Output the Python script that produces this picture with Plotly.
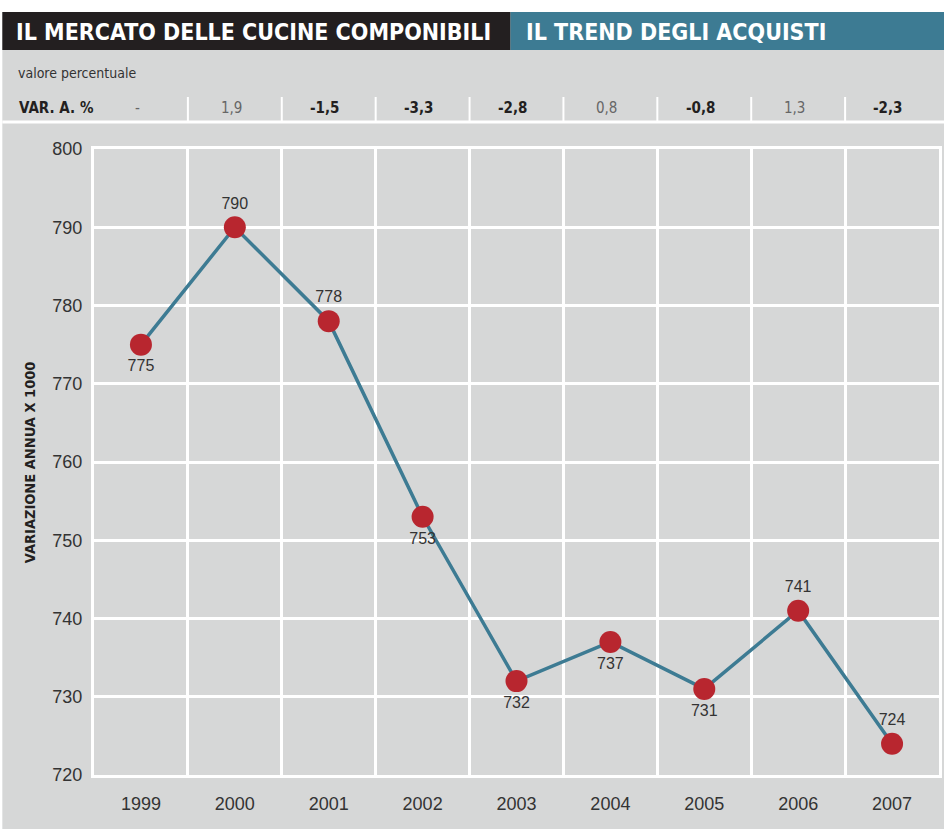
import plotly.graph_objects as go

years = ["1999", "2000", "2001", "2002", "2003", "2004", "2005", "2006", "2007"]
values = [775, 790, 778, 753, 732, 737, 731, 741, 724]
label_pos = ["bottom center", "top center", "top center", "bottom center", "bottom center",
             "bottom center", "bottom center", "top center", "top center"]
var_pct = ["-", "1,9", "-1,5", "-3,3", "-2,8", "0,8", "-0,8", "1,3", "-2,3"]
var_bold = [False, False, True, True, True, False, True, False, True]
y_ticks = [720, 730, 740, 750, 760, 770, 780, 790, 800]

GRAY = "#d6d7d7"
TEAL = "#3d7b93"
RED = "#b8262f"
DARK = "#231f20"
NARROW = "DejaVu Sans Condensed, Liberation Sans Narrow, sans-serif"
SANS = "Liberation Sans, Arial, Helvetica, sans-serif"

W, H = 944, 829
L, R, T, B = 94, 2, 149, 54
PW, PH = W - L - R, H - T - B

def px(x):
    return (x - L) / PW

def py(y):
    return (H - B - y) / PH

xs = list(range(len(years)))

fig = go.Figure()
fig.add_trace(go.Scatter(
    x=xs, y=values, mode="lines+markers+text",
    line=dict(color=TEAL, width=3.5),
    marker=dict(color=RED, size=22),
    text=[str(v) for v in values], textposition=label_pos,
    textfont=dict(family=SANS, size=16, color="#333333"),
    cliponaxis=False, hoverinfo="skip", showlegend=False,
))

shapes = []
# white top strip and left edge
shapes.append(dict(type="rect", xref="paper", yref="paper", x0=px(-5), x1=px(W + 5),
                   y0=py(12), y1=py(-5), fillcolor="white", line_width=0, layer="below"))
shapes.append(dict(type="rect", xref="paper", yref="paper", x0=px(-5), x1=px(2),
                   y0=py(H + 5), y1=py(-5), fillcolor="white", line_width=0, layer="below"))
# title bars
shapes.append(dict(type="rect", xref="paper", yref="paper", x0=px(2), x1=px(512),
                   y0=py(50), y1=py(12), fillcolor=DARK, line_width=0, layer="below"))
shapes.append(dict(type="rect", xref="paper", yref="paper", x0=px(512), x1=px(W + 5),
                   y0=py(50), y1=py(12), fillcolor=TEAL, line_width=0, layer="below"))
# header separator line
shapes.append(dict(type="line", xref="paper", yref="paper", x0=px(2), x1=px(W + 5),
                   y0=py(122), y1=py(122), line=dict(color="white", width=3), layer="below"))
# header column separators
for i in range(len(years) - 1):
    shapes.append(dict(type="line", xref="x", yref="paper", x0=i + 0.5, x1=i + 0.5,
                       y0=py(121), y1=py(97), line=dict(color="white", width=2), layer="below"))

annotations = [
    dict(text="IL MERCATO DELLE CUCINE COMPONIBILI", xref="paper", yref="paper",
         x=px(14), y=py(32), xanchor="left", yanchor="middle", showarrow=False,
         font=dict(family=NARROW, size=23, color="white", weight="bold")),
    dict(text="IL TREND DEGLI ACQUISTI", xref="paper", yref="paper",
         x=px(526), y=py(32), xanchor="left", yanchor="middle", showarrow=False,
         font=dict(family=NARROW, size=23, color="white", weight="bold")),
    dict(text="valore percentuale", xref="paper", yref="paper",
         x=px(16), y=py(73), xanchor="left", yanchor="middle", showarrow=False,
         font=dict(family=NARROW, size=14, color="#333333")),
    dict(text="VAR. A. %", xref="paper", yref="paper",
         x=px(17), y=py(108), xanchor="left", yanchor="middle", showarrow=False,
         font=dict(family=NARROW, size=15, color="#231f20", weight="bold")),
    dict(text="VARIAZIONE ANNUA X 1000", xref="paper", yref="paper",
         x=px(30), y=0.5, xanchor="center", yanchor="middle", showarrow=False, textangle=-90,
         font=dict(family=NARROW, size=14.5, color="#231f20", weight="bold")),
]
for i, (v, b) in enumerate(zip(var_pct, var_bold)):
    annotations.append(dict(
        text=v, xref="x", yref="paper", x=i - 0.04, y=py(108), xanchor="center", yanchor="middle",
        showarrow=False,
        font=dict(family=NARROW, size=15, color="#231f20" if b else "#666666",
                  weight="bold" if b else "normal")))

fig.update_layout(
    width=W, height=H,
    margin=dict(l=L, r=R, t=T, b=B, pad=0),
    paper_bgcolor=GRAY, plot_bgcolor=GRAY,
    shapes=shapes, annotations=annotations,
    xaxis=dict(
        range=[-0.5, len(years) - 0.5], tickmode="array", tickvals=xs, ticktext=years,
        showgrid=False, zeroline=False, showline=True, mirror=True, linecolor="white", linewidth=3,
        ticks="",
        tickfont=dict(family=SANS, size=18, color="#333333"), ticklabelstandoff=10,
        minor=dict(tick0=-0.5, dtick=1, showgrid=True, gridcolor="white", gridwidth=3, ticks=""),
    ),
    yaxis=dict(
        range=[720, 800], tickmode="array", tickvals=y_ticks,
        showgrid=True, gridcolor="white", gridwidth=3, zeroline=False,
        showline=True, mirror=True, linecolor="white", linewidth=3, ticks="",
        tickfont=dict(family=SANS, size=18, color="#333333"), ticklabelstandoff=5,
    ),
)

fig.write_html("out.html", config={"displayModeBar": False},
               post_script="document.body.style.margin='0';")
